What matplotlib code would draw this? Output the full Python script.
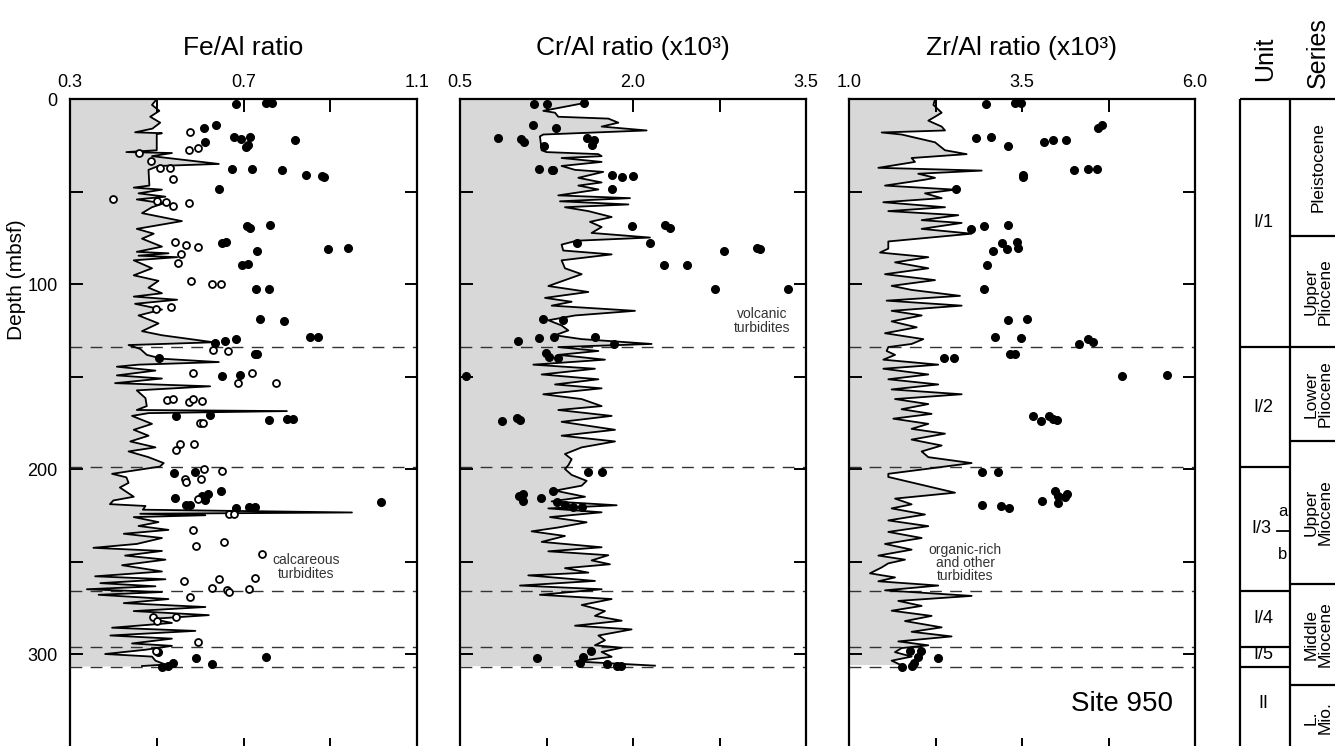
import numpy as np
import matplotlib
matplotlib.use("Agg")
from matplotlib import pyplot as plt
from matplotlib.ticker import FixedLocator, FixedFormatter, MultipleLocator

plt.rcParams['font.family'] = ['Liberation Sans', 'DejaVu Sans']

# ---- Fe/Al profile (depth in mbsf, ratio) ----
fe_depth = [0, 3.2, 6.4, 9.6, 12.8, 16, 18, 18.5, 19, 27.7, 28.7, 29.2, 30.9, 35.1, 36.2, 38.3, 46.8, 47.9, 49, 51,
            52.8, 54.3, 56.4, 58.5, 61.7, 66, 70.2, 72.8, 75.5, 79.8, 82.6, 83.4, 84.7, 85.5, 87.2, 91.5, 95.3, 98.3,
            102, 105, 106.8, 108.5, 110.7, 113.8, 117, 121.3, 125.5, 127.7, 131.5, 133, 135.1, 138.3, 140.4, 142.2,
            143.6, 144.7, 146.8, 149.4, 151.1, 153.6, 155.3, 157.5, 161.7, 166, 168.1, 168.7, 169.8, 171.3, 175.6,
            178.8, 182, 185.1, 188.3, 190.5, 193.6, 196.8, 198.7, 202.6, 204.5, 207.5, 210, 215, 217, 219, 220, 222,
            223.5, 224.2, 225, 226, 228.7, 230.8, 232.9, 235, 237.3, 240.5, 242.6, 244.3, 246.8, 249, 252, 255.4, 258,
            259.6, 261.7, 263.4, 265, 266.5, 268, 270.3, 272.5, 274.6, 276.8, 279, 281, 283.2, 285.8, 287.5, 290,
            291.7, 294.3, 295.6, 297.7, 300, 301.4, 303.6, 305.7, 306.5]
fe_ratio = [0.50, 0.489, 0.506, 0.485, 0.508, 0.49, 0.45, 0.512, 0.50, 0.50, 0.43, 0.535, 0.489, 0.643, 0.504, 0.481,
            0.483, 0.447, 0.512, 0.458, 0.52, 0.454, 0.516, 0.489, 0.466, 0.558, 0.454, 0.493, 0.466, 0.512, 0.454,
            0.527, 0.458, 0.547, 0.447, 0.489, 0.447, 0.504, 0.481, 0.512, 0.447, 0.547, 0.45, 0.512, 0.458, 0.504,
            0.466, 0.512, 0.631, 0.435, 0.462, 0.477, 0.512, 0.643, 0.458, 0.408, 0.497, 0.408, 0.512, 0.404, 0.623,
            0.454, 0.474, 0.477, 0.454, 0.80, 0.481, 0.443, 0.489, 0.447, 0.481, 0.439, 0.497, 0.435, 0.481, 0.516,
            0.507, 0.397, 0.43, 0.435, 0.415, 0.447, 0.40, 0.392, 0.474, 0.468, 0.95, 0.462, 0.612, 0.447, 0.504,
            0.458, 0.527, 0.424, 0.512, 0.454, 0.354, 0.512, 0.427, 0.52, 0.42, 0.512, 0.358, 0.52, 0.37, 0.497,
            0.339, 0.512, 0.366, 0.527, 0.424, 0.612, 0.447, 0.62, 0.489, 0.535, 0.397, 0.589, 0.393, 0.535, 0.443,
            0.535, 0.474, 0.381, 0.489, 0.497, 0.52, 0.466]

fe_fill_d = [2.7, 2.3, 2.3, 15.9, 14, 23.4, 20.7, 21.8, 20.3, 25.7, 24.9, 22.3, 37.8, 38, 38.4, 41, 41.6, 42.3, 48.5,
             68.6, 69.9, 68, 77.8, 77.5, 81.3, 80.4, 82.3, 89.7, 89.4, 102.5, 102.9, 119.1, 119.8, 128.5, 128.8, 132,
             131, 129.9, 138, 138, 140.2, 149.5, 149, 171.4, 170.8, 173.5, 173.1, 173.1, 202, 201.6, 211.9, 215.5,
             219.5, 219.5, 214.4, 213.7, 217, 221.3, 220.4, 220.7, 218, 298.7, 302.3, 301.8, 306.8, 306.5, 305, 305.6]
fe_fill_v = [0.683, 0.753, 0.765, 0.609, 0.636, 0.611, 0.678, 0.694, 0.715, 0.705, 0.711, 0.819, 0.673, 0.719, 0.788,
             0.844, 0.88, 0.885, 0.643, 0.709, 0.715, 0.761, 0.651, 0.659, 0.895, 0.942, 0.73, 0.697, 0.711, 0.728,
             0.759, 0.739, 0.793, 0.853, 0.872, 0.634, 0.657, 0.682, 0.727, 0.732, 0.506, 0.65, 0.693, 0.544, 0.623,
             0.759, 0.8, 0.815, 0.54, 0.589, 0.648, 0.542, 0.567, 0.577, 0.604, 0.619, 0.611, 0.682, 0.713, 0.727,
             1.018, 0.503, 0.59, 0.752, 0.513, 0.527, 0.538, 0.627]

fe_open_d = [18, 27.6, 26.7, 29, 33.3, 37.3, 37.5, 43.4, 54.2, 55, 55.7, 58, 56, 77.1, 79.1, 79.8, 83.8, 88.8, 98.2,
             100.2, 100, 113.3, 112.6, 135.7, 136, 147.9, 153.3, 148.3, 153.3, 162.7, 162.3, 163.9, 162.3, 163.2,
             174.9, 174.9, 186.6, 189.7, 186.6, 200.2, 201, 205.4, 206.9, 205.4, 216.4, 224.3, 224.3, 233, 241.6,
             239.3, 245.9, 260.5, 259.5, 258.8, 264.5, 265.4, 266.6, 265, 269.3, 280.2, 282, 279.8, 293.7, 298.4]
fe_open_v = [0.576, 0.575, 0.594, 0.46, 0.487, 0.507, 0.53, 0.538, 0.398, 0.5, 0.521, 0.538, 0.575, 0.541, 0.567,
             0.596, 0.555, 0.549, 0.58, 0.628, 0.647, 0.499, 0.534, 0.629, 0.664, 0.584, 0.688, 0.72, 0.775, 0.524,
             0.537, 0.574, 0.583, 0.605, 0.6, 0.606, 0.554, 0.545, 0.587, 0.609, 0.651, 0.565, 0.567, 0.603, 0.594,
             0.667, 0.678, 0.584, 0.59, 0.656, 0.742, 0.563, 0.643, 0.726, 0.628, 0.661, 0.667, 0.713, 0.576, 0.492,
             0.5, 0.545, 0.594, 0.498]

# ---- Cr/Al profile (x10^3) ----
cr_depth = [0, 2.1, 6.4, 7.4, 9.6, 10.6, 12.8, 14.9, 17, 19.2, 20.2, 27.7, 28.7, 29.8, 30.9, 31.9, 34, 36.2, 38.3,
            39.4, 42.6, 45.1, 46.8, 48.9, 52.1, 53.6, 55.3, 57, 58.5, 60.6, 63.8, 66.4, 69.2, 72.4, 74.9, 76.6, 78.7,
            81.9, 84, 87.2, 91.5, 94.7, 97.9, 101.1, 104.3, 107.5, 109.6, 111.7, 114.5, 117, 119.6, 122.4, 125.1,
            127.7, 129.8, 132.4, 134.1, 136.2, 138.3, 140.9, 143.6, 145.8, 148.9, 151.5, 154.3, 156.4, 159.6, 162.2,
            166, 168.1, 171.3, 174.5, 178.8, 182, 185.1, 188.3, 191.9, 194.7, 197.9, 200, 203.2, 206.4, 209, 211.7,
            215, 217.5, 219.6, 221.3, 223.4, 226, 228.8, 231.6, 233.7, 236.2, 239.4, 242.3, 244.5, 246.6, 249.4,
            251.5, 253.6, 256, 257.5, 260.5, 263, 265, 268, 270.3, 273.5, 276.8, 279.4, 282, 284.7, 286.7, 290,
            292.6, 295.3, 296.6, 298.9, 301.5, 304, 306.3]
cr_ratio = [1.584, 1.584, 1.222, 1.324, 1.352, 1.786, 1.873, 1.728, 2.118, 1.222, 1.193, 1.208, 1.25, 1.70, 1.728,
            1.381, 1.728, 1.381, 1.497, 1.742, 1.526, 1.728, 1.526, 1.70, 1.352, 1.974, 1.367, 1.96, 1.41, 1.613,
            1.815, 1.627, 1.728, 1.641, 2.147, 1.511, 1.381, 1.395, 1.815, 1.381, 1.41, 1.555, 1.41, 1.266, 1.613,
            1.237, 1.468, 1.295, 2.017, 1.497, 1.266, 1.381, 1.439, 1.324, 1.555, 2.161, 1.352, 1.70, 1.352, 1.757,
            1.136, 1.67, 1.208, 1.70, 1.324, 1.728, 1.222, 1.555, 1.728, 1.352, 1.815, 1.381, 1.844, 1.381, 1.844,
            1.555, 1.41, 1.468, 1.44, 1.41, 1.468, 1.598, 1.555, 1.324, 1.584, 1.295, 1.858, 1.266, 1.728, 1.28,
            1.598, 1.352, 1.121, 1.41, 1.208, 1.728, 1.266, 1.786, 1.641, 1.80, 1.41, 1.613, 1.092, 1.67, 1.02,
            1.728, 1.193, 1.815, 1.555, 1.757, 1.67, 1.902, 1.497, 1.988, 1.70, 1.757, 1.67, 1.902, 1.728, 1.815,
            1.497, 2.19]

cr_fill_d = [2.7, 2.7, 2, 14, 15.9, 20.9, 21.8, 23.4, 25.4, 20.9, 22.2, 24.9, 37.8, 38.4, 38.4, 41.1, 42.3, 41.6,
             48.6, 68.6, 68.1, 69.9, 78, 77.7, 82.3, 80.4, 81.1, 89.5, 89.5, 102.7, 102.7, 119.1, 119.5, 131, 129.4,
             128.5, 128.8, 132.6, 137.5, 139.3, 140.2, 149.6, 173.9, 172.6, 173.5, 201.8, 201.8, 211.9, 214.4, 213.5,
             217.1, 215.9, 218, 219.5, 220.4, 220.7, 302.3, 298.2, 301.4, 305, 305.6, 306.5, 306.3]
cr_fill_v = [1.144, 1.257, 1.575, 1.136, 1.332, 0.832, 1.029, 1.055, 1.231, 1.598, 1.662, 1.642, 1.188, 1.295, 1.304,
             1.818, 1.907, 1.997, 1.818, 1.988, 2.277, 2.321, 1.511, 2.147, 2.792, 3.072, 3.101, 2.269, 2.466, 2.711,
             3.341, 1.223, 1.39, 1.0, 1.188, 1.318, 1.668, 1.835, 1.246, 1.275, 1.35, 0.549, 0.862, 0.992, 1.02,
             1.613, 1.729, 1.309, 1.012, 1.044, 1.044, 1.202, 1.338, 1.41, 1.483, 1.555, 1.164, 1.633, 1.564, 1.54,
             1.772, 1.859, 1.896]

# ---- Zr/Al profile (x10^3) ----
zr_depth = [0, 3.2, 7.4, 9.6, 11.7, 14.9, 17, 18.1, 19.2, 23.4, 27.7, 29.8, 31.9, 34, 37.2, 38.7, 40.4, 42.6, 43.6,
            46.8, 49, 51, 53.6, 55.8, 58.5, 60.6, 62.8, 65.5, 67, 70.2, 72.8, 77, 80.9, 83, 85.5, 88.3, 91.5, 94.7,
            97.9, 101, 103.2, 106.4, 109, 111.7, 114.5, 117, 120.2, 123.4, 126.6, 129.8, 132.4, 134.1, 136.2, 138.3,
            140.9, 143.6, 145.8, 148.9, 151.5, 154.3, 157, 159.6, 162.2, 164.9, 167.7, 170.2, 172.8, 175.6, 178.3,
            180.9, 184.1, 187.3, 190.5, 193.6, 196.8, 199.6, 202.6, 204.3, 212.8, 216, 219.1, 221.3, 224.6, 227.8,
            230.9, 234, 237.3, 240.5, 243.6, 246.8, 249, 251, 253.2, 256.4, 258.6, 260.7, 263, 265.6, 268.6, 271.3,
            274, 276.6, 279.4, 282.2, 285.6, 288, 290.5, 293.2, 295.3, 296.8, 299, 301.4, 303.6, 305.7]
zr_ratio = [2.243, 2.22, 2.339, 2.243, 2.146, 2.339, 2.387, 1.472, 1.76, 2.243, 2.387, 2.70, 1.905, 1.953, 1.424,
            2.917, 2.0, 2.243, 2.098, 1.52, 2.532, 2.098, 2.339, 1.496, 2.387, 1.568, 2.58, 2.05, 2.628, 2.05, 2.772,
            1.568, 1.568, 1.448, 2.146, 1.665, 2.146, 1.52, 2.243, 1.616, 1.905, 2.604, 1.544, 2.628, 1.616, 2.05,
            1.616, 1.978, 1.52, 2.074, 1.905, 1.568, 1.544, 1.665, 1.496, 2.29, 1.496, 2.146, 1.568, 2.29, 1.616,
            2.628, 1.665, 2.146, 1.76, 2.194, 1.64, 2.146, 1.905, 2.387, 1.905, 2.339, 2.05, 2.146, 2.772, 2.194,
            1.568, 1.568, 2.532, 1.665, 1.905, 1.616, 2.098, 1.568, 2.146, 1.568, 2.05, 1.52, 1.905, 1.424, 1.809,
            1.568, 1.472, 1.303, 1.665, 1.424, 2.29, 1.52, 2.772, 1.712, 2.05, 1.616, 2.194, 1.809, 2.339, 1.905,
            2.483, 1.712, 2.146, 1.76, 1.665, 1.905, 1.616, 1.736]

zr_fill_d = [2.7, 2.3, 2, 15.9, 14, 20.9, 20.7, 25.4, 23.4, 22.2, 22.3, 42, 41, 38.4, 38, 37.8, 48.6, 70.1, 68.8,
             68.1, 77.8, 77.5, 81.3, 80.4, 82.3, 89.7, 102.7, 119.6, 118.9, 128.8, 129, 132.4, 129.6, 131.2, 138, 138,
             140.2, 140.2, 149.5, 149.2, 171.4, 173.9, 171.4, 173.1, 173.5, 201.8, 201.8, 219.5, 220, 221.3, 217.1,
             211.9, 213.7, 214.4, 215.3, 218.2, 298.2, 298.2, 301.8, 302.3, 306.8, 306.3, 305]
zr_fill_v = [2.984, 3.399, 3.486, 4.594, 4.661, 2.831, 3.052, 3.293, 3.813, 3.953, 4.131, 3.519, 3.519, 4.256, 4.458,
             4.588, 2.541, 2.768, 2.946, 3.293, 3.215, 3.432, 3.278, 3.446, 3.085, 2.99, 2.951, 3.293, 3.577, 3.105,
             3.48, 4.329, 4.458, 4.53, 3.327, 3.399, 2.377, 2.517, 4.95, 5.6, 3.663, 3.775, 3.895, 3.953, 4.01, 2.917,
             3.148, 2.917, 3.197, 3.317, 3.794, 3.982, 4.155, 4.025, 4.121, 4.025, 1.882, 2.04, 2.001, 2.29, 1.762,
             1.906, 1.939]

# lithologic unit boundaries (also dashed lines) and series boundaries, mbsf
unit_bounds = [134, 199, 266, 296, 307]
unit_names = ["I/1", "I/2", "I/3", "I/4", "I/5", "II"]
unit_label_depth = [67, 166.5, 232, 281, 300.5, 327]
series_bounds = [74, 134, 185, 262, 317]
series_names = ["Pleistocene", "Upper\nPliocene", "Lower\nPliocene", "Upper\nMiocene", "Middle\nMiocene", "L.\nMio."]

W, H = 1335, 746
TOP, BOT = 99, 750.2
DMAX = 352
fig = plt.figure(figsize=(W / 100, H / 100), dpi=100)


def px_axes(left, right):
    return fig.add_axes([left / W, 1 - BOT / H, (right - left) / W, (BOT - TOP) / H])


def setup_panel(ax, lims, ticklabels, ylabels=False):
    ax.set_xlim(*lims)
    ax.set_ylim(DMAX, 0)
    ax.xaxis.set_major_locator(FixedLocator(np.linspace(lims[0], lims[1], 5)))
    ax.xaxis.set_major_formatter(FixedFormatter(ticklabels))
    ax.yaxis.set_major_locator(MultipleLocator(100))
    ax.yaxis.set_minor_locator(MultipleLocator(50))
    ax.tick_params(which='both', direction='in', top=True, bottom=True, left=True, right=True,
                   labeltop=True, labelbottom=False, length=9, width=1.4, labelsize=13)
    ax.tick_params(axis='x', pad=6)
    ax.tick_params(axis='y', pad=9, labelleft=ylabels)
    for sp in ax.spines.values():
        sp.set_linewidth(1.6)


def draw_profile(ax, lims, depth, vals):
    ax.fill_betweenx(depth, lims[0], vals, color='#d8d8d8', lw=0, zorder=1)
    for d in unit_bounds:
        ax.axhline(d, color='#333333', lw=1.0, dashes=(8.5, 6), zorder=2)
    ax.plot(vals, depth, color='k', lw=1.3, zorder=3)


panels = [
    (70, 417, (0.3, 1.1), ['0.3', '', '0.7', '', '1.1'], "Fe/Al ratio"),
    (460, 806, (0.5, 3.5), ['0.5', '', '2.0', '', '3.5'], "Cr/Al ratio (x10³)"),
    (849, 1195, (1.0, 6.0), ['1.0', '', '3.5', '', '6.0'], "Zr/Al ratio (x10³)"),
]
axes = []
for i, (l, r, lims, tl, title) in enumerate(panels):
    ax = px_axes(l, r)
    setup_panel(ax, lims, tl, ylabels=(i == 0))
    fig.text((l + r) / 2 / W, 1 - 55 / H, title, ha='center', va='baseline', fontsize=19)
    axes.append(ax)

ax1, ax2, ax3 = axes
draw_profile(ax1, (0.3, 1.1), fe_depth, fe_ratio)
ax1.plot(fe_fill_v, fe_fill_d, 'o', color='k', ms=5.5, zorder=4)
ax1.plot(fe_open_v, fe_open_d, 'o', mfc='white', mec='k', mew=1.3, ms=5, zorder=4)
ax1.text(0.845, 253, "calcareous\nturbidites", ha='center', va='center', fontsize=10, color='#333333',
         linespacing=1.0)

draw_profile(ax2, (0.5, 3.5), cr_depth, cr_ratio)
ax2.plot(cr_fill_v, cr_fill_d, 'o', color='k', ms=5.5, zorder=4)
ax2.text(3.12, 120, "volcanic\nturbidites", ha='center', va='center', fontsize=10, color='#333333',
         linespacing=1.0)

draw_profile(ax3, (1.0, 6.0), zr_depth, zr_ratio)
ax3.plot(zr_fill_v, zr_fill_d, 'o', color='k', ms=5.5, zorder=4)
ax3.text(2.68, 251, "organic-rich\nand other\nturbidites", ha='center', va='center', fontsize=10,
         color='#333333', linespacing=0.9)
ax3.text(4.94, 327, "Site 950", ha='center', va='center', fontsize=20)

fig.text(17 / W, 1 - 280 / H, "Depth (mbsf)", rotation=90, ha='center', va='center', fontsize=15)

# unit / series column
rc = px_axes(1240, 1340)
rc.set_xlim(0, 100)
rc.set_ylim(DMAX, 0)
rc.axis('off')
kw = dict(color='k', lw=1.6, clip_on=False, solid_capstyle='butt')
rc.plot([0, 0], [0, DMAX], **kw)
rc.plot([50, 50], [0, DMAX], **kw)
rc.plot([0, 100], [0, 0], **kw)
for d in unit_bounds:
    rc.plot([0, 50], [d, d], **kw)
for d in series_bounds:
    rc.plot([50, 100], [d, d], **kw)
for name, d in zip(unit_names, unit_label_depth):
    rc.text(21 if name == "I/3" else 23, d, name, ha='center', va='center', fontsize=13)
rc.plot([37, 50], [233.5, 233.5], color='k', lw=1.3, clip_on=False)
rc.text(43, 223, "a", ha='center', va='center', fontsize=12)
rc.text(43, 246, "b", ha='center', va='center', fontsize=12)
edges = [0] + series_bounds + [DMAX]
for name, a, b in zip(series_names, edges[:-1], edges[1:]):
    rc.text(78, (a + b) / 2, name, rotation=90, ha='center', va='center', fontsize=12.5,
            multialignment='center', linespacing=0.95)

fig.text(1265 / W, 1 - 81 / H, "Unit", rotation=90, ha='center', va='bottom', fontsize=18)
fig.text(1318 / W, 1 - 88 / H, "Series", rotation=90, ha='center', va='bottom', fontsize=18)

fig.savefig("out.png", dpi=100)
